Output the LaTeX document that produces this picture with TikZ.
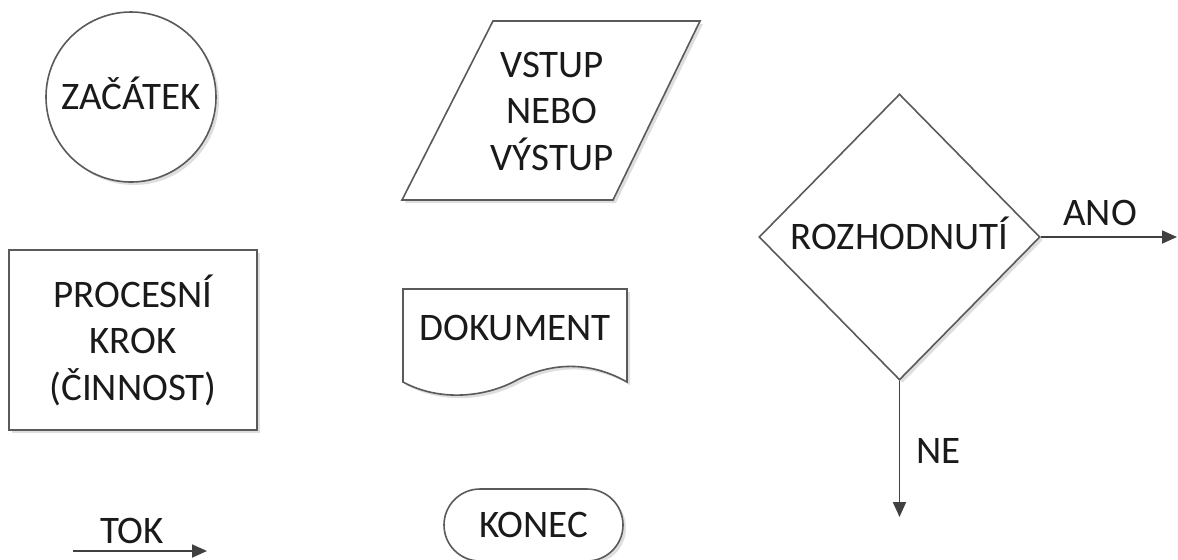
\documentclass[tikz,border=0pt]{standalone}
\usepackage{fontspec}
\setmainfont{Carlito}
\usetikzlibrary{arrows.meta, positioning, shapes.geometric, shadows}
\definecolor{CLine}{HTML}{5A5A5A}
\definecolor{CArrow}{HTML}{404040}
\definecolor{CText}{HTML}{1A1A1A}
\definecolor{CShadow}{HTML}{C8C8C8}

\begin{document}
\begin{tikzpicture}[x=0.5pt, y=-0.5pt,
    every node/.style={font=\fontsize{19.5}{23.25}\selectfont, text=CText},
    symbol/.style={draw=CLine, line width=0.8pt, fill=white,
        drop shadow={shadow xshift=1.5pt, shadow yshift=-1.5pt, fill=CShadow, opacity=0.6}},
    capbox/.style={text height=12.6pt, text depth=0pt},
    flow/.style={draw=CArrow, line width=0.9pt, -{Triangle[length=7.5pt, width=6.5pt]}}]
    \useasboundingbox (0,0) rectangle (1178,559);

    % Start
    \node[symbol, capbox, circle, minimum size=85pt, inner sep=0pt] (zacatek) at (131,97) {ZAČÁTEK};

    % Input / output
    \draw[symbol] (493,21) -- (700,21) -- (613,200) -- (402,200) -- cycle;
    \node[align=center] (vstup) at (552,111) {VSTUP\\NEBO\\VÝSTUP};

    % Process step
    \node[symbol, minimum width=124pt, minimum height=90pt, align=center] (krok) at (133,340) {PROCESNÍ\\KROK\\(ČINNOST)};

    % Document
    \draw[symbol] (403,289) -- (627,289) -- (627,382)
        .. controls (585,358) and (545,365) .. (515,381)
        .. controls (485,397) and (440,402) .. (403,382) -- cycle;
    \node[capbox] (dokument) at (515,328) {DOKUMENT};

    % End
    \node[symbol, capbox, rounded corners=18pt, minimum width=89.5pt, minimum height=36pt, inner sep=0pt] (konec) at (533.5,525) {KONEC};

    % Decision
    \node[symbol, capbox, diamond, minimum width=140.5pt, minimum height=143pt, inner sep=0pt] (rozhodnuti) at (899.5,237) {ROZHODNUTÍ};
    \coordinate (anoend) at (1177,237);
    \draw[flow] (rozhodnuti.east) -- (anoend);
    \node[anchor=base] (ano) at (1100,225) {ANO};
    \coordinate (neend) at (899.5,517);
    \draw[flow] (rozhodnuti.south) -- (neend);
    \node[anchor=base west] (ne) at (909,463) {NE};

    % Flow
    \coordinate (tokstart) at (73,551);
    \coordinate (tokend) at (207,551);
    \draw[flow] (tokstart) -- (tokend);
    \node[anchor=base] (tok) at (132,543) {TOK};
\end{tikzpicture}
\end{document}
